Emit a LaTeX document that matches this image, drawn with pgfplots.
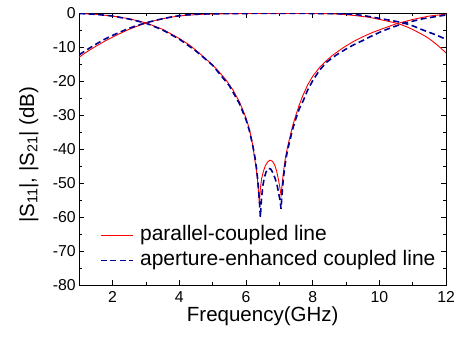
\documentclass[border=0pt]{standalone}
\usepackage{pgfplots}
\pgfplotsset{compat=1.18}
\usepackage{fontspec}
\setmainfont{Liberation Sans}
\definecolor{myred}{RGB}{255,0,0}
\definecolor{myblue}{RGB}{0,0,150}
\begin{document}
\begin{tikzpicture}
\begin{axis}[
  scale only axis, width=367pt, height=272pt,
  xmin=1, xmax=12, ymin=-80, ymax=0,
  xtick={2,4,6,8,10,12}, xticklabels={2,4,6,8,10,12},
  ytick={-80,-70,-60,-50,-40,-30,-20,-10,0},
  yticklabels={-80,-70,-60,-50,-40,-30,-20,-10,0},
  minor x tick num=1, minor y tick num=1,
  tick align=inside, major tick length=5pt, minor tick length=3pt,
  tick style={black, line width=0.8pt},
  axis line style={line width=0.9pt},
  ticklabel style={font=\fontsize{15.8}{18}\selectfont},
  xticklabel style={yshift=-2.5pt},
  xlabel={Frequency(GHz)},
  ylabel={|S\textsubscript{11}|, |S\textsubscript{21}| (dB)},
  label style={font=\fontsize{20.5}{24}\selectfont},
  xlabel style={at={(axis description cs:0.5,-0.115)},anchor=center},
  ylabel style={at={(axis description cs:-0.137,0.48)},anchor=center},
  legend cell align=left,
  legend style={draw=none, fill=none, inner sep=0pt, outer sep=0pt,
    at={(axis description cs:0.0567,0.2206)}, anchor=north west,
    font=\fontsize{21}{24}\selectfont,
    nodes={inner sep=0pt, text height=15pt, text depth=5pt},
    row sep=5pt, column sep=6.5pt},
  legend image code/.code={\draw[#1] (0pt,0pt) -- (32pt,0pt);},
]
% S11, parallel-coupled line
\addplot[color=myred, line width=0.9pt] coordinates {
(1.0,-0.05) (1.5,-0.3) (2.0,-0.8) (2.5,-1.6) (3.0,-2.8) (3.5,-4.7) (4.0,-7.4) (4.3,-9.3) (4.6,-11.7) (5.0,-15.2) (5.2,-17.3) (5.4,-19.6) (5.6,-22.4) (5.8,-26.0) (5.9,-28.3) (6.0,-30.8) (6.1,-34.0) (6.17,-37.2) (6.22,-40.0) (6.26,-42.8) (6.3,-45.3) (6.34,-48.5) (6.37,-52) (6.40,-56) (6.43,-51.5) (6.47,-48.5) (6.52,-46.5) (6.58,-44.8) (6.65,-43.7) (6.72,-43.2) (6.79,-43.5) (6.86,-44.6) (6.92,-46.5) (6.97,-48.8) (7.01,-51) (7.05,-53.5) (7.09,-49.5) (7.13,-46) (7.18,-42.5) (7.24,-39.5) (7.3,-37) (7.4,-33) (7.5,-29.8) (7.6,-26.8) (7.7,-24.3) (7.85,-21) (8.0,-18.5) (8.2,-16) (8.4,-14) (8.6,-12.3) (8.9,-10.2) (9.2,-8.4) (9.5,-6.9) (9.8,-5.6) (10.1,-4.5) (10.5,-3.1) (11.0,-1.8) (11.5,-0.8) (12.0,-0.25)
};
\addlegendentry{parallel-coupled line}
% S11, aperture-enhanced coupled line
\addplot[color=myblue, line width=1.6pt, dash pattern=on 6pt off 3.5pt] coordinates {
(1.0,-0.05) (1.5,-0.3) (2.0,-0.8) (2.5,-1.7) (3.0,-2.9) (3.5,-4.9) (4.0,-7.6) (4.5,-11.1) (5.0,-15.3) (5.5,-21.3) (5.8,-26.5) (6.0,-31.3) (6.1,-34.5) (6.2,-38.8) (6.27,-42.5) (6.32,-46) (6.36,-50) (6.4,-55) (6.43,-60) (6.46,-55) (6.5,-51) (6.55,-48.3) (6.6,-46.7) (6.67,-45.6) (6.74,-45.8) (6.8,-46.8) (6.87,-48.5) (6.93,-50.5) (6.98,-53) (7.02,-55) (7.05,-57.5) (7.08,-53) (7.12,-48.5) (7.17,-44.5) (7.23,-41) (7.3,-38) (7.4,-34) (7.5,-30.8) (7.6,-28) (7.72,-25.6) (7.85,-22.5) (8.0,-19.8) (8.2,-16.8) (8.4,-14.5) (8.7,-12.3) (9.0,-10.5) (9.2,-9.4) (9.5,-8.0) (9.7,-7.0) (10.0,-5.6) (10.2,-4.8) (10.45,-3.9) (10.7,-3.0) (11.0,-2.3) (11.3,-1.6) (11.6,-1.1) (12.0,-0.5)
};
\addlegendentry{aperture-enhanced coupled line}
% S21
\addplot[color=myred, line width=0.9pt, smooth, forget plot] coordinates {
(1.0,-12.9) (1.25,-11.2) (1.5,-9.7) (1.75,-8.3) (2.0,-7.0) (2.5,-4.7) (3.0,-2.9) (3.5,-1.6) (4.0,-0.8) (4.5,-0.4) (5.0,-0.2) (6.0,-0.05) (7.0,0) (8.0,-0.05) (8.7,-0.2) (9.2,-0.6) (9.7,-1.2) (10.0,-1.8) (10.5,-2.9) (10.8,-3.9) (11.1,-5.3) (11.4,-6.9) (11.6,-8.3) (11.8,-9.9) (12.0,-11.7)
};
\addplot[color=myblue, line width=1.6pt, dash pattern=on 6pt off 3.5pt, smooth, forget plot] coordinates {
(1.0,-12.2) (1.25,-10.6) (1.5,-9.1) (1.75,-7.7) (2.0,-6.5) (2.5,-4.4) (3.0,-2.8) (3.5,-1.6) (4.0,-0.7) (4.5,-0.3) (5.0,-0.15) (6.0,-0.05) (7.0,0) (8.0,-0.05) (8.7,-0.1) (9.2,-0.3) (9.6,-0.8) (10.0,-1.5) (10.4,-2.2) (10.7,-2.8) (11.0,-3.7) (11.3,-4.9) (11.6,-6.0) (11.8,-6.8) (12.0,-7.7)
};
\end{axis}
\pgfresetboundingbox
\path (-79.2pt,-52pt) rectangle (380.8pt,285.3pt);
\end{tikzpicture}
\end{document}
